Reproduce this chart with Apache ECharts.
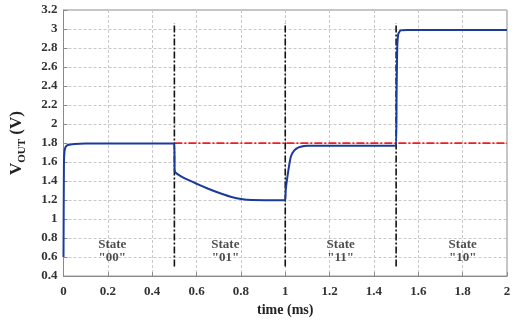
<!DOCTYPE html>
<html>
<head>
<meta charset="utf-8">
<script src="https://cdn.jsdelivr.net/npm/echarts@6/dist/echarts.min.js"></script>
<style>
  html, body { margin: 0; padding: 0; background: #fff; }
  #chart { width: 515px; height: 322px; }
</style>
</head>
<body>
<div id="chart"></div>
<script>
// V_OUT trace (time in ms, volts)
const timeMs = [
  0, 0.002, 0.005, 0.01, 0.02, 0.05, 0.1, 0.5,
  0.501, 0.505, 0.53, 0.56, 0.6, 0.65, 0.7, 0.75, 0.8, 0.85, 1.0,
  1.002, 1.01, 1.025, 1.04, 1.06, 1.085, 1.1, 1.5,
  1.502, 1.505, 1.51, 1.52, 1.55, 2.0,
];
const vout = [
  0.6, 1.6, 1.72, 1.76, 1.78, 1.79, 1.795, 1.795,
  1.52, 1.49, 1.45, 1.415, 1.372, 1.322, 1.277, 1.238, 1.212, 1.2, 1.197,
  1.3, 1.45, 1.655, 1.72, 1.755, 1.77, 1.772, 1.772,
  2.3, 2.8, 2.95, 2.985, 2.99, 2.99,
];

// red reference level
const refLevel = 1.8;
const refSpan = [0.5, 2];

// state switching instants (black dash-dot markers)
const switchTimes = [0.5, 1, 1.5];
const switchSpan = [0.5, 3.06];

// state annotations
const stateNames = ['"00"', '"01"', '"11"', '"10"'];
const stateX = [0.22, 0.73, 1.25, 1.8];
const stateY = 0.665;

const xTickStep = 0.2;
const yTickStep = 0.2;

const serif = "'Liberation Serif', 'DejaVu Serif', serif";

const chart = echarts.init(document.getElementById("chart"), undefined, { renderer: "canvas" });

const switchSeries = switchTimes.map((t) => ({
  type: "line",
  data: switchSpan.map((v) => [t, v]),
  symbol: "none",
  silent: true,
  lineStyle: { color: "#111", width: 1.6, type: [7, 2, 2, 2] },
  z: 3,
}));

chart.setOption({
  animation: false,
  grid: {
    left: 62,
    right: 8,
    top: 10,
    bottom: 35,
    show: true,
    borderColor: "#8a8a8a",
    borderWidth: 1,
  },
  xAxis: {
    type: "value",
    min: 0,
    max: 2,
    interval: xTickStep,
    name: "time (ms)",
    nameLocation: "middle",
    nameGap: 23,
    nameTextStyle: { fontFamily: serif, fontWeight: "bold", fontSize: 14, color: "#222" },
    axisLine: { show: true, onZero: false, lineStyle: { color: "#8a8a8a" } },
    axisTick: { inside: true, length: 4, lineStyle: { color: "#8a8a8a" } },
    axisLabel: { fontFamily: serif, fontWeight: "bold", fontSize: 13, color: "#333", margin: 9 },
    splitLine: { lineStyle: { type: [3, 2], color: "#c8c8c8" } },
  },
  yAxis: {
    type: "value",
    min: 0.4,
    max: 3.2,
    interval: yTickStep,
    name: "{a|V}{b|OUT}{a| (V)}",
    nameLocation: "middle",
    nameGap: 36,
    nameRotate: 90,
    nameTextStyle: {
      color: "#222",
      rich: {
        a: { fontFamily: serif, fontWeight: "bold", fontSize: 17, lineHeight: 22, color: "#222" },
        b: { fontFamily: serif, fontWeight: "bold", fontSize: 11, lineHeight: 12, verticalAlign: "bottom", color: "#222" },
      },
    },
    axisLine: { show: true, lineStyle: { color: "#8a8a8a" } },
    axisTick: { show: true, inside: true, length: 4, lineStyle: { color: "#8a8a8a" } },
    axisLabel: { fontFamily: serif, fontWeight: "bold", fontSize: 13, color: "#333", margin: 6 },
    splitLine: { lineStyle: { type: [3, 2], color: "#c8c8c8" } },
  },
  series: [
    {
      name: "ref",
      type: "line",
      data: refSpan.map((t) => [t, refLevel]),
      symbol: "none",
      silent: true,
      lineStyle: { color: "#f01e1e", width: 1.8, type: [8, 2, 2, 2] },
      z: 2,
    },
    ...switchSeries,
    {
      name: "VOUT",
      type: "line",
      data: timeMs.map((t, i) => [t, vout[i]]),
      symbol: "none",
      smooth: 0.15,
      lineStyle: { color: "#1c3a9a", width: 2 },
      z: 4,
    },
    {
      name: "states",
      type: "scatter",
      symbolSize: 0,
      silent: true,
      data: stateNames.map((s, i) => ({ value: [stateX[i], stateY], name: s })),
      label: {
        show: true,
        position: "inside",
        formatter: (p) => "State\n" + p.name,
        fontFamily: serif,
        fontWeight: "bold",
        fontSize: 13,
        lineHeight: 13,
        color: "#222",
        align: "center",
      },
      z: 5,
    },
  ],
});
</script>
</body>
</html>
